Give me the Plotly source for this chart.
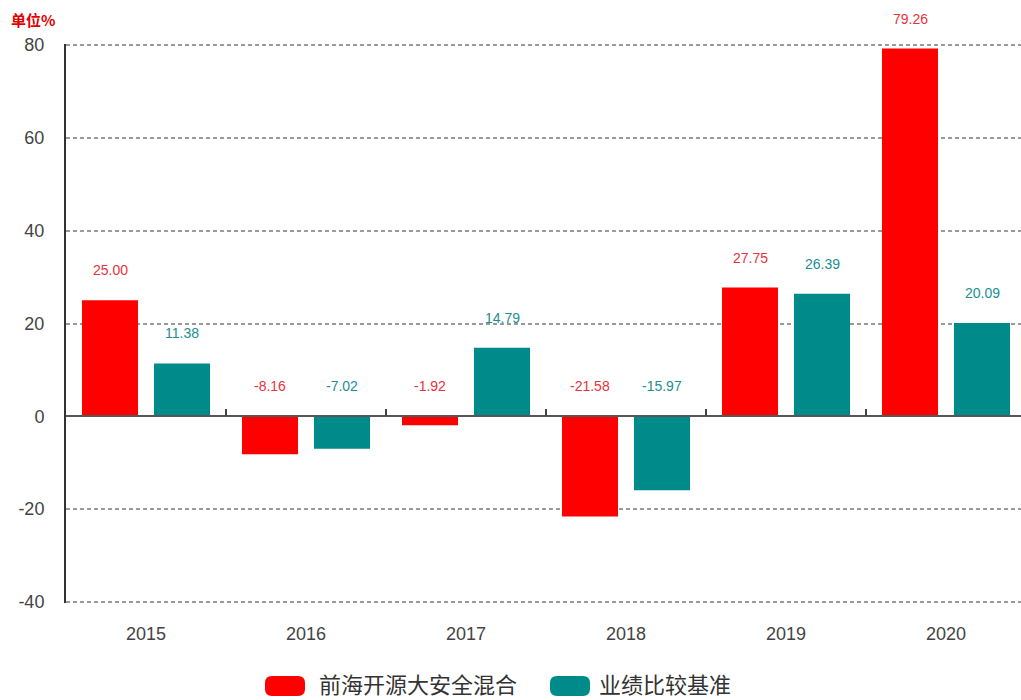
import plotly.graph_objects as go

years = ["2015", "2016", "2017", "2018", "2019", "2020"]
fund_name = "前海开源大安全混合"
bench_name = "业绩比较基准"
fund_vals = [25.00, -8.16, -1.92, -21.58, 27.75, 79.26]
bench_vals = [11.38, -7.02, 14.79, -15.97, 26.39, 20.09]
y_ticks = [-40, -20, 0, 20, 40, 60, 80]

RED = "#ff0000"
TEAL = "#008b8b"
RED_TXT = "#e8323c"
TEAL_TXT = "#1a8f8f"

W, H = 1021, 700
L, T, B = 66, 44, 97
plot_w = W - L
plot_h = H - T - B

pos = list(range(len(years)))

fig = go.Figure()
fig.add_trace(go.Bar(x=pos, y=fund_vals, name=fund_name, marker_color=RED,
                     marker_line_width=0, showlegend=False))
fig.add_trace(go.Bar(x=pos, y=bench_vals, name=bench_name, marker_color=TEAL,
                     marker_line_width=0, showlegend=False))
# invisible baseline trace so the zero-position axis (x2) is rendered
fig.add_trace(go.Scatter(x=pos, y=[0] * len(pos), xaxis="x2", mode="none",
                         showlegend=False, hoverinfo="skip"))

# data labels
off = 0.225
for i, v in enumerate(fund_vals):
    fig.add_annotation(x=i - off, y=max(v, 0), text=f"{v:.2f}", showarrow=False,
                       yshift=30, font=dict(size=14, color=RED_TXT,
                                            family="Liberation Sans, Arial"))
for i, v in enumerate(bench_vals):
    fig.add_annotation(x=i + off, y=max(v, 0), text=f"{v:.2f}", showarrow=False,
                       yshift=30, font=dict(size=14, color=TEAL_TXT,
                                            family="Liberation Sans, Arial"))

# unit label
fig.add_annotation(xref="paper", yref="paper", x=(9 - L) / plot_w, y=(H - B - 20) / plot_h,
                   xanchor="left", yanchor="middle", text="<b>单位%</b>", showarrow=False,
                   font=dict(size=15, color="#e00000", family="Noto Sans CJK SC"))

# custom legend
def px2paper(px, py):
    return (px - L) / plot_w, (H - B - py) / plot_h

def rounded(w, h, r):
    x0, x1, y0, y1 = -w / 2, w / 2, -h / 2, h / 2
    return (f"M {x0+r},{y0} L {x1-r},{y0} Q {x1},{y0} {x1},{y0+r} "
            f"L {x1},{y1-r} Q {x1},{y1} {x1-r},{y1} L {x0+r},{y1} "
            f"Q {x0},{y1} {x0},{y1-r} L {x0},{y0+r} Q {x0},{y0} {x0+r},{y0} Z")

for name, color, sx, tx in [(fund_name, RED, 285, 318), (bench_name, TEAL, 570, 598)]:
    ax, ay = px2paper(sx, 686)
    fig.add_shape(type="path", xref="paper", yref="paper", xsizemode="pixel",
                  ysizemode="pixel", xanchor=ax, yanchor=ay, path=rounded(40, 20, 7),
                  fillcolor=color, line_width=0)
    tx_p, ty_p = px2paper(tx, 683)
    fig.add_annotation(xref="paper", yref="paper", x=tx_p, y=ty_p, xanchor="left",
                       yanchor="middle", text=name, showarrow=False, borderpad=0,
                       font=dict(size=22, color="#333333", family="Noto Sans CJK SC"))

x_range = [-0.5, 5.5 - 5 / 160]
y_range = [y_ticks[0] - 0.25, y_ticks[-1] + 0.25]

fig.update_layout(
    width=W, height=H,
    margin=dict(l=L, r=0, t=T, b=B),
    paper_bgcolor="white", plot_bgcolor="white",
    barmode="group", bargap=0.1, bargroupgap=0.222,
    font=dict(family="Liberation Sans, Arial", color="#444444"),
    xaxis=dict(range=x_range, tickvals=pos, ticktext=years, showline=False,
               showgrid=False, zeroline=False, ticks="", ticklabelstandoff=18,
               tickfont=dict(size=18, color="#444444")),
    xaxis2=dict(range=x_range, overlaying="x", anchor="free",
                position=(0 - y_range[0]) / (y_range[1] - y_range[0]),
                side="bottom", showline=True, linecolor="#555555", linewidth=1.5,
                ticks="inside", ticklen=7, tickwidth=1.5, tickcolor="#444444",
                tickvals=[p + 0.5 for p in pos[:-1]], showticklabels=False,
                showgrid=False, zeroline=False),
    yaxis=dict(range=y_range, tickvals=y_ticks, ticktext=[str(t) for t in y_ticks],
               showline=True, linecolor="#333333", linewidth=2,
               showgrid=True, gridcolor="#9a9a9a", gridwidth=1.5, griddash="4px,3px",
               zeroline=False, ticks="", ticklabelstandoff=16,
               tickfont=dict(size=18, color="#444444")),
)

fig.write_html("out.html")
